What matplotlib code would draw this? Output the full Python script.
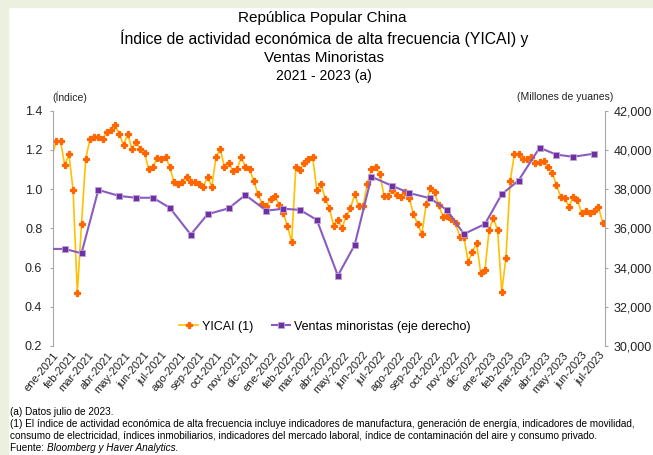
import numpy as np
import matplotlib
matplotlib.use('Agg')
import matplotlib.pyplot as plt
import matplotlib.dates as mdates
import pandas as pd
from matplotlib.patches import Rectangle
from matplotlib import font_manager

plt.rcParams['font.family'] = 'Liberation Sans'
installed = {f.name for f in font_manager.fontManager.ttflist}
narrow = 'Liberation Sans Narrow' if 'Liberation Sans Narrow' in installed else 'Liberation Sans'

# YICAI weekly index (first value sits just before the axis start)
yicai_start = '2020-12-31'
yicai = [1.17,
         1.245, 1.245, 1.123, 1.178, 0.994, 0.469, 0.821, 1.154, 1.254, 1.267,
         1.267, 1.254, 1.293, 1.302, 1.325, 1.281, 1.225, 1.281, 1.205, 1.242,
         1.205, 1.183, 1.101, 1.111, 1.160,
         1.152, 1.165, 1.114, 1.035, 1.026, 1.035, 1.063, 1.035, 1.035, 1.026,
         1.012, 1.063, 1.012, 1.162, 1.205, 1.114, 1.135, 1.093, 1.101, 1.162,
         1.114, 1.101, 1.041, 0.974, 0.923, 0.912, 0.950,
         0.965, 0.921, 0.880, 0.812, 0.730, 1.112, 1.100, 1.135, 1.155, 1.165,
         0.994, 1.026, 0.952, 0.902, 0.812, 0.844, 0.802, 0.862, 0.902, 0.974,
         0.912, 0.912, 1.028, 1.101, 1.113,
         1.076, 0.965, 0.965, 0.996, 0.970, 0.962, 0.987, 0.953, 0.872, 0.821,
         0.770, 0.923, 1.004, 0.984, 0.919, 0.860, 0.865, 0.846, 0.826, 0.758,
         0.755, 0.630, 0.681, 0.724, 0.571, 0.588,
         0.792, 0.851, 0.792, 0.477, 0.650, 1.041, 1.178, 1.178, 1.154, 1.154,
         1.162, 1.135, 1.140, 1.143, 1.114, 1.084, 1.021, 0.962, 0.953, 0.910,
         0.962, 0.945, 0.880, 0.890, 0.880, 0.890, 0.910, 0.829]
yicai_dates = pd.date_range(yicai_start, periods=len(yicai), freq='7D')

# Retail sales (millions of yuan), monthly
ventas_dates = pd.to_datetime([
    '2020-12-17', '2021-01-21', '2021-02-18', '2021-03-18', '2021-04-22',
    '2021-05-20', '2021-06-17', '2021-07-15', '2021-08-19', '2021-09-16',
    '2021-10-21', '2021-11-18', '2021-12-23', '2022-01-20', '2022-02-17',
    '2022-03-17', '2022-04-21', '2022-05-19', '2022-06-16', '2022-07-21',
    '2022-08-18', '2022-09-22', '2022-10-20', '2022-11-17', '2022-12-22',
    '2023-01-19', '2023-02-16', '2023-03-23', '2023-04-20', '2023-05-18',
    '2023-06-22'])
ventas = [34950, 34950, 34730, 37960, 37650, 37560, 37560, 37050, 35680, 36720,
          37020, 37700, 36900, 37000, 36940, 36430, 33590, 35150, 38630, 38160,
          37800, 37530, 36920, 35710, 36220, 37740, 38440, 40110, 39760, 39650,
          39810]

meses = ['ene', 'feb', 'mar', 'abr', 'may', 'jun', 'jul', 'ago', 'sep', 'oct', 'nov', 'dic']

fig = plt.figure(figsize=(6.53, 4.55), dpi=100)
fig.patches.append(Rectangle((0, 0), 8 / 653, 1, transform=fig.transFigure,
                             color='#EBF1DE', zorder=0))
fig.patches.append(Rectangle((0, 1 - 7 / 455), 1, 7 / 455, transform=fig.transFigure,
                             color='#EBF1DE', zorder=0))

ax = fig.add_axes([0.0807, 0.2396, 0.8458, 0.5171])
ax2 = ax.twinx()

l1, = ax.plot(yicai_dates, yicai, color='#FFC000', lw=1.2, marker='P', ms=4.6,
              mfc='#FF6600', mec='#FF6600', mew=0.9,
              markevery=list(range(1, len(yicai))), label='YICAI (1)')
l2, = ax2.plot(ventas_dates, ventas, color='#8A5CC0', lw=1.5, marker='s', ms=4.8,
               mfc='#7030A0', mec='#B9A3DA', mew=0.6,
               markevery=list(range(1, len(ventas))),
               label='Ventas minoristas (eje derecho)')

ax.set_xlim(pd.Timestamp('2021-01-01'), pd.Timestamp('2023-07-10'))
ax.set_ylim(0.2, 1.4)
ax.set_yticks(np.arange(0.2, 1.41, 0.2))
ax.yaxis.set_major_formatter(matplotlib.ticker.FormatStrFormatter('%.1f'))
ax2.set_ylim(30000, 42000)
ax2.set_yticks(range(30000, 42001, 2000))
ax2.yaxis.set_major_formatter(matplotlib.ticker.FuncFormatter(lambda v, p: f'{int(v):,}'))

ax.xaxis.set_major_locator(mdates.MonthLocator())
ax.xaxis.set_major_formatter(matplotlib.ticker.FuncFormatter(
    lambda v, p: f"{meses[mdates.num2date(v).month - 1]}-{mdates.num2date(v).year}"))
ax.tick_params(axis='x', length=0, pad=3, labelsize=8, colors='#222222')
for lab in ax.get_xticklabels():
    lab.set_rotation(50)
    lab.set_ha('right')
    lab.set_rotation_mode('anchor')

for a in (ax, ax2):
    for s in ('top', 'bottom'):
        a.spines[s].set_visible(False)
ax.spines['right'].set_visible(False)
ax2.spines['left'].set_visible(False)
ax.spines['left'].set_color('#A6A6A6')
ax2.spines['right'].set_color('#A6A6A6')
ax.tick_params(axis='y', length=2.5, width=0.8, color='#A6A6A6', labelsize=9,
               pad=5, labelcolor='#222222')
ax2.tick_params(axis='y', length=2.5, width=0.8, color='#A6A6A6', labelsize=9,
                pad=3.5, labelcolor='#222222')

ax2.legend([l1, l2], [l1.get_label(), l2.get_label()], loc='center',
           bbox_to_anchor=(0.493, 0.082), ncol=2, frameon=False, fontsize=9,
           handlelength=1.5, columnspacing=1.5, handletextpad=0.3)

fig.text(52 / 653, 1 - 97 / 455, '(Índice)', fontsize=7.5, ha='left', va='center', color='#222222')
fig.text(613 / 653, 1 - 97 / 455, '(Millones de yuanes)', fontsize=7.5, ha='right',
         va='center', color='#222222')

# titles
fig.text(0.494, 1 - 18 / 455, 'República Popular China', ha='center', va='center', fontsize=11)
fig.text(0.496, 1 - 38 / 455, 'Índice de actividad económica de alta frecuencia (YICAI) y',
         ha='center', va='center', fontsize=11.3)
fig.text(0.496, 1 - 58 / 455, 'Ventas Minoristas', ha='center', va='center', fontsize=11)
fig.text(0.496, 1 - 76 / 455, '2021 - 2023 (a)', ha='center', va='center', fontsize=10)

# footnotes
fs = 8 if narrow != 'Liberation Sans' else 7.2
fig.text(10 / 653, 1 - 412 / 455, '(a) Datos julio de 2023.', fontsize=fs, family=narrow, va='center')
fig.text(10 / 653, 1 - 424 / 455,
         '(1) El índice de actividad económica de alta frecuencia incluye indicadores de manufactura, '
         'generación de energía, indicadores de movilidad,', fontsize=fs, family=narrow, va='center')
fig.text(10 / 653, 1 - 436 / 455,
         'consumo de electricidad, índices inmobiliarios, indicadores del mercado laboral, '
         'índice de contaminación del aire y consumo privado.', fontsize=fs, family=narrow, va='center')
src = fig.text(10 / 653, 1 - 448 / 455, 'Fuente: ', fontsize=fs, family=narrow, va='center')
ax.annotate('Bloomberg y Haver Analytics.', xy=(1, 0), xycoords=src, va='bottom', ha='left',
            fontsize=fs, family=narrow, style='italic', annotation_clip=False)

fig.savefig('out.png', dpi=100)
